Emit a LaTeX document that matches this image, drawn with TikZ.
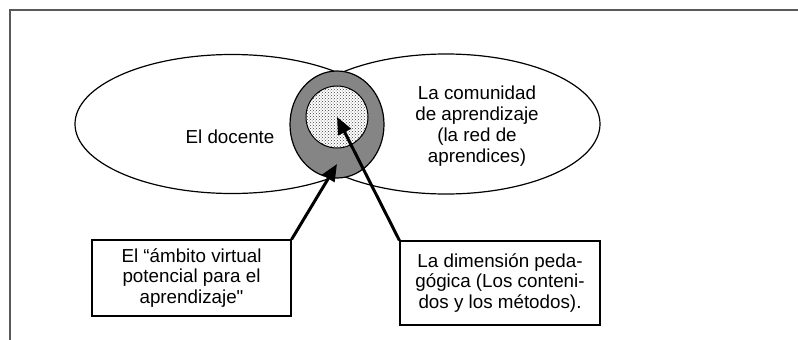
\documentclass[tikz,border=0pt]{standalone}
\usepackage{fontspec}
\newfontfamily\labelfont{Liberation Sans}
\usetikzlibrary{shapes.geometric,arrows.meta,patterns}

\begin{document}
\begin{tikzpicture}
        [x=1pt,y=-1pt,
        font=\labelfont,
        region/.style = {ellipse,
        draw=black, line width=1.2pt,
        fill=white, inner sep=0pt},
        note/.style = {rectangle,
        draw=black, line width=1.2pt,
        fill=white, align=center, inner sep=0pt},
        pointer/.style = {line width=3pt,
        -{Triangle[length=17pt,width=14pt]}}]
        \useasboundingbox (0,0) rectangle (798,340);
        \fontsize{18.8}{20.8}\selectfont

        % Frame
        \draw[black!65, line width=2.5pt] (800,10) -- (10,10) -- (10,342);

        % El docente
        \node[region, minimum width=314pt, minimum height=139pt] (D) at (232,124) {};

        % La comunidad
        \node[region, minimum width=308pt, minimum height=140pt] (C) at (446,124) {};

        % Ambito virtual
        \node[region, fill=black!48, minimum width=94pt, minimum height=107pt] (A) at (337,124.5) {};

        % Dimension pedagogica
        \node[region, circle, minimum size=62pt, line width=1pt,
        preaction={fill=white}, pattern=crosshatch dots, pattern color=black!75] (P) at (337,117) {};

        \node at (230,137) {El docente};
        \node[align=center] at (477,126) {La comunidad\\de aprendizaje\\(la red de\\aprendices)};

        % Boxes
        \node[note, minimum width=199pt, minimum height=76pt] (LB) at (191.5,278)
        {El “ámbito virtual\\potencial para el\\aprendizaje"};
        \node[note, minimum width=200pt, minimum height=84pt] (RB) at (500,283)
        {La dimensión peda-\\gógica (Los conteni-\\dos y los métodos).};

        % Arrows
        \coordinate (tip) at (337,164);
        \draw[pointer] (LB.north east) -- (tip);
        \draw[pointer] (RB.north west) -- (P.center);
    \end{tikzpicture}
\end{document}
